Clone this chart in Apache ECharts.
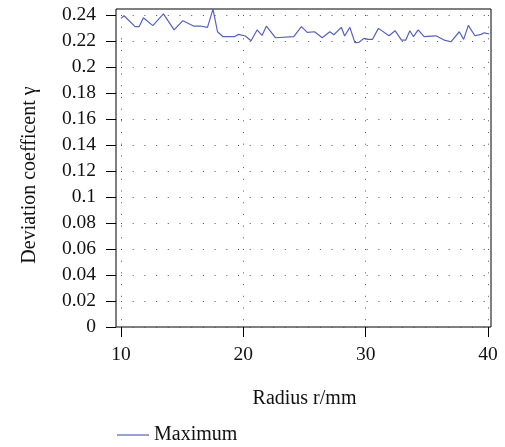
<!DOCTYPE html>
<html>
<head>
<meta charset="utf-8">
<script src="https://cdn.jsdelivr.net/npm/echarts@6/dist/echarts.min.js"></script>
<style>html,body{margin:0;padding:0;background:#fff}#c{width:505px;height:447px}</style>
</head>
<body>
<div id="c"></div>
<script>
var radius = [10.0,10.25,11.15,11.48,11.83,12.6,13.47,14.34,15.06,15.93,16.48,17.07,17.52,17.89,18.34,19.26,19.61,20.16,20.63,21.12,21.53,21.89,22.62,24.12,24.75,25.22,25.82,26.45,27.07,27.4,28.01,28.28,28.71,29.12,29.45,29.86,30.19,30.55,31.04,31.91,32.4,32.93,33.28,33.61,33.91,34.29,34.78,35.74,36.42,36.97,37.65,38.01,38.39,38.93,39.43,39.7,40.1];
var maximum = [0.2374,0.2394,0.2310,0.2310,0.2379,0.2318,0.2408,0.2285,0.2356,0.2315,0.2315,0.2305,0.2445,0.2271,0.2233,0.2233,0.2251,0.2238,0.2202,0.2285,0.2243,0.2315,0.2225,0.2233,0.2310,0.2266,0.2271,0.2225,0.2271,0.2248,0.2305,0.2238,0.2305,0.2187,0.2190,0.2220,0.2212,0.2212,0.2297,0.2240,0.2279,0.2207,0.2207,0.2279,0.2233,0.2285,0.2233,0.2240,0.2207,0.2194,0.2271,0.2212,0.2320,0.2240,0.2251,0.2263,0.2254];
var xTicks = {min: 10, max: 40, interval: 10};
var yTicks = {min: 0, max: 0.24, interval: 0.02};
var seriesName = 'Maximum';
var xTitle = 'Radius r/mm';
var yTitle = 'Deviation coefficent \u03b3';

var FONT = 'Liberation Serif';
var LINE = '#5661c0';
var pts = radius.map(function (r, i) { return [r, maximum[i]]; });
var chart = echarts.init(document.getElementById('c'), null, {renderer: 'canvas'});
var dots = {color: '#555', width: 1, type: [1, 10.7]};
chart.setOption({
  animation: false,
  backgroundColor: '#fff',
  legend: {
    show: true, orient: 'horizontal',
    left: 112, top: 420, itemWidth: 32, itemHeight: 1.2, itemGap: 10,
    data: [{name: seriesName, icon: 'rect'}],
    textStyle: {fontFamily: FONT, fontSize: 20, color: '#111'}
  },
  grid: [
    {left: 116, right: 14, top: 9, bottom: 120, show: true, borderColor: '#000', borderWidth: 1, backgroundColor: 'transparent'},
    {left: 121, right: 17, top: 15, bottom: 120}
  ],
  xAxis: [
    {type: 'value', gridIndex: 0, min: 9.591, max: 40.245, show: false},
    {type: 'value', gridIndex: 1, min: xTicks.min, max: xTicks.max, interval: xTicks.interval,
     axisLine: {show: false},
     axisTick: {show: true, inside: false, length: 10, lineStyle: {color: '#000', width: 1}},
     axisLabel: {margin: 18, fontFamily: FONT, fontSize: 19.5, color: '#111'},
     splitLine: {show: true, lineStyle: dots},
     name: xTitle, nameLocation: 'middle', nameGap: 62,
     nameTextStyle: {fontFamily: FONT, fontSize: 20, color: '#111'}}
  ],
  yAxis: [
    {type: 'value', gridIndex: 0, min: 0, max: 0.2446, show: false},
    {type: 'value', gridIndex: 1, min: yTicks.min, max: yTicks.max, interval: yTicks.interval, offset: 5,
     axisLine: {show: false},
     axisTick: {show: true, inside: false, length: 10, lineStyle: {color: '#000', width: 1}},
     axisLabel: {margin: 20, fontFamily: FONT, fontSize: 19.5, color: '#111'},
     splitLine: {show: true, lineStyle: dots},
     name: yTitle, nameLocation: 'middle', nameGap: 76,
     nameTextStyle: {fontFamily: FONT, fontSize: 20, color: '#111', padding: [0, 8, 0, 0]}}
  ],
  series: [{
    name: seriesName, type: 'line', xAxisIndex: 0, yAxisIndex: 0,
    data: pts, symbol: 'none', showSymbol: false, clip: false,
    lineStyle: {color: LINE, width: 1.2},
    itemStyle: {color: LINE}
  }]
});
</script>
</body>
</html>
